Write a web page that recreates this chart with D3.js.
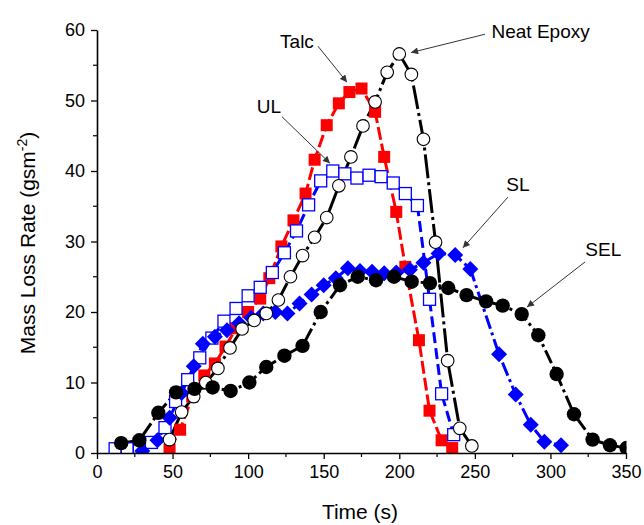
<!DOCTYPE html>
<html><head><meta charset="utf-8">
<script src="https://cdn.jsdelivr.net/npm/d3@7"></script>
<style>body{margin:0;background:#fff}text{font-family:"Liberation Sans",Arial,sans-serif}</style>
</head><body><svg id="c" width="644" height="525"></svg>
<script>
// ---- data ----
const talcX = [48,55,63,71,78,85,92,100,108,114,122,130,138,144,152,160,167,175,184,190,198,204,213,220,228,235];
const talcY = [0.5,3.3,8.0,11.0,12.7,15.1,17.7,20.0,21.9,24.8,29.3,33.0,36.8,41.6,46.5,49.6,51.2,51.7,48.4,42.0,34.2,26.4,16.0,6.0,1.8,0.7];
const ulX = [12,20,28,36,45,52,60,68,76,84,92,100,108,116,124,132,140,148,156,164,172,180,188,196,204,212,220,228,236];
const ulY = [0.6,0.6,0.8,1.5,3.6,7.3,10.4,13.5,16.3,18.7,20.5,22.3,23.5,25.6,28.4,31.5,35.2,38.6,40.0,39.6,39.0,39.4,39.2,38.3,36.8,35.1,21.8,8.4,2.6];
const slX = [30,40,48,56,64,70,78,86,94,102,110,118,126,134,142,150,158,166,174,182,190,198,207,216,226,237,247,266,277,287,296,307];
const slY = [0.3,1.8,5.0,8.5,12.3,15.5,16.5,17.4,18.4,19.2,19.8,20.0,19.8,21.2,22.5,23.8,24.8,26.2,25.8,25.7,25.5,25.6,26.0,27.0,28.3,28.1,26.1,14.0,8.3,4.0,1.6,1.1];
const neatX = [48,56,64,72,80,88,96,104,112,120,128,136,144,152,160,168,176,184,192,200,208,216,224,232,240,248];
const neatY = [1.9,5.8,8.0,10.0,12.0,14.9,17.6,18.8,19.8,21.7,25.0,28.0,30.6,33.4,37.9,42.0,46.4,49.8,54.0,56.6,53.7,44.5,29.9,13.1,3.5,1.0];
const selX = [16,28,40.6,52.3,64.5,76.5,88.4,100.8,112,124,136,148,160.8,172.5,184.6,196.5,208.2,220.3,232.4,244.5,257.4,268.4,281,292,304.1,315.6,327.9,339.4,350.4];
const selY = [1.4,1.8,5.7,8.6,9.1,9.3,8.8,10.0,12.2,13.8,15.2,20.0,23.8,25.0,24.5,25.0,24.3,24.1,23.4,22.4,21.5,20.9,19.7,16.7,11.2,5.5,1.9,1.1,0.7];
const xTicks = [0,50,100,150,200,250,300,350];
const yTicks = [0,10,20,30,40,50,60];
const labels = ["Talc","Neat Epoxy","UL","SL","SEL"];
const labelPos = [[132.3,57.4],[293.5,58.9],[113.8,48.2],[278.5,37.2],[335,28.0]];
const arrowFrom = [[146.2,57.7],[256.7,59.4],[122.4,47.7],[271.9,36.3],[322.9,27.1]];
const arrowTo = [[165.4,52.6],[207.8,56.8],[154.1,41.1],[242.1,29.1],[284.5,20.7]];

// ---- chart ----
const svg = d3.select("#c");
const x = d3.scaleLinear().domain([0,350]).range([97,626]);
const y = d3.scaleLinear().domain([0,60]).range([453,30]);

svg.append("defs").append("clipPath").attr("id","clip").append("rect")
  .attr("x",97).attr("y",20).attr("width",529.5).attr("height",433);
svg.select("defs").append("marker").attr("id","ah").attr("viewBox","0 0 10 10")
  .attr("refX",10).attr("refY",5).attr("markerWidth",9).attr("markerHeight",7)
  .attr("markerUnits","userSpaceOnUse").attr("orient","auto")
  .append("path").attr("d","M0,0L10,5L0,10z").attr("fill","#333");

const g = svg.append("g").attr("clip-path","url(#clip)");
const line = d3.line().x(d=>x(d[0])).y(d=>y(d[1]));
const zip = (a,b)=>a.map((v,i)=>[v,b[i]]);

const series = [
  {pts: zip(talcX,talcY), color:"#f00", dash:"13,4", shape:"sq", fill:"#f00"},
  {pts: zip(ulX,ulY), color:"#00f", dash:"11,5", shape:"sq", fill:"#fff"},
  {pts: zip(slX,slY), color:"#00f", dash:"14,4,3,4", shape:"dia", fill:"#00f"},
  {pts: zip(neatX,neatY), color:"#000", dash:"24,4,3,4", shape:"circ", fill:"#fff"},
  {pts: zip(selX,selY), color:"#000", dash:"14,4,3,4", shape:"circ", fill:"#000"}
];
series.forEach(s=>{
  g.append("path").attr("d",line(s.pts)).attr("fill","none")
    .attr("stroke",s.color).attr("stroke-width",3).attr("stroke-dasharray",s.dash);
});
series.forEach(s=>{
  const mg = g.append("g");
  s.pts.forEach(p=>{
    const cx=x(p[0]), cy=y(p[1]);
    if(s.shape==="sq"){
      mg.append("rect").attr("x",cx-6).attr("y",cy-6).attr("width",12).attr("height",12)
        .attr("fill",s.fill).attr("stroke",s.color).attr("stroke-width",s.fill==="#fff"?1.3:0);
    } else if(s.shape==="dia"){
      mg.append("path").attr("d",`M${cx},${cy-8}L${cx+8},${cy}L${cx},${cy+8}L${cx-8},${cy}Z`)
        .attr("fill",s.fill);
    } else {
      const filled = s.fill!=="#fff";
      mg.append("circle").attr("cx",cx).attr("cy",cy).attr("r",filled?7.2:6.3)
        .attr("fill",s.fill).attr("stroke","#000").attr("stroke-width",filled?0:1.1);
    }
  });
});

// axes
const xAxis = svg.append("g").attr("transform","translate(0,453)")
  .call(d3.axisBottom(x).tickValues(xTicks).tickSize(6).tickSizeOuter(0).tickPadding(6));
const yAxis = svg.append("g").attr("transform","translate(97,0)")
  .call(d3.axisLeft(y).tickValues(yTicks).tickSize(6).tickSizeOuter(0).tickPadding(6));
[xAxis,yAxis].forEach(a=>{
  a.select(".domain").attr("stroke","#000").attr("stroke-width",1.6);
  a.selectAll(".tick line").attr("stroke","#000").attr("stroke-width",1.3);
  a.selectAll(".tick text").attr("font-size",18).attr("fill","#000")
   .attr("font-family","Liberation Sans, Arial, sans-serif");
});
// minor ticks
xTicks.slice(0,-1).forEach(t=>{
  svg.append("line").attr("x1",x(t+25)).attr("x2",x(t+25)).attr("y1",453).attr("y2",457)
    .attr("stroke","#000").attr("stroke-width",1.2);
});
yTicks.slice(0,-1).forEach(t=>{
  svg.append("line").attr("x1",93).attr("x2",97).attr("y1",y(t+5)).attr("y2",y(t+5))
    .attr("stroke","#000").attr("stroke-width",1.2);
});

// axis titles
svg.append("text").attr("x",360).attr("y",519).attr("text-anchor","middle")
  .attr("font-size",21).text("Time (s)");
const yt = svg.append("text").attr("transform","translate(35,243) rotate(-90)")
  .attr("text-anchor","middle").attr("font-size",21);
yt.append("tspan").text("Mass Loss Rate (gsm");
yt.append("tspan").attr("font-size",14).attr("baseline-shift","super").text("-2");
yt.append("tspan").text(")");

// annotations
labels.forEach((l,i)=>{
  svg.append("line").attr("x1",x(arrowFrom[i][0])).attr("y1",y(arrowFrom[i][1]))
    .attr("x2",x(arrowTo[i][0])).attr("y2",y(arrowTo[i][1]))
    .attr("stroke","#333").attr("stroke-width",1).attr("marker-end","url(#ah)");
  svg.append("text").attr("x",x(labelPos[i][0])).attr("y",y(labelPos[i][1]))
    .attr("text-anchor","middle").attr("font-size",19).text(l);
});
</script></body></html>
